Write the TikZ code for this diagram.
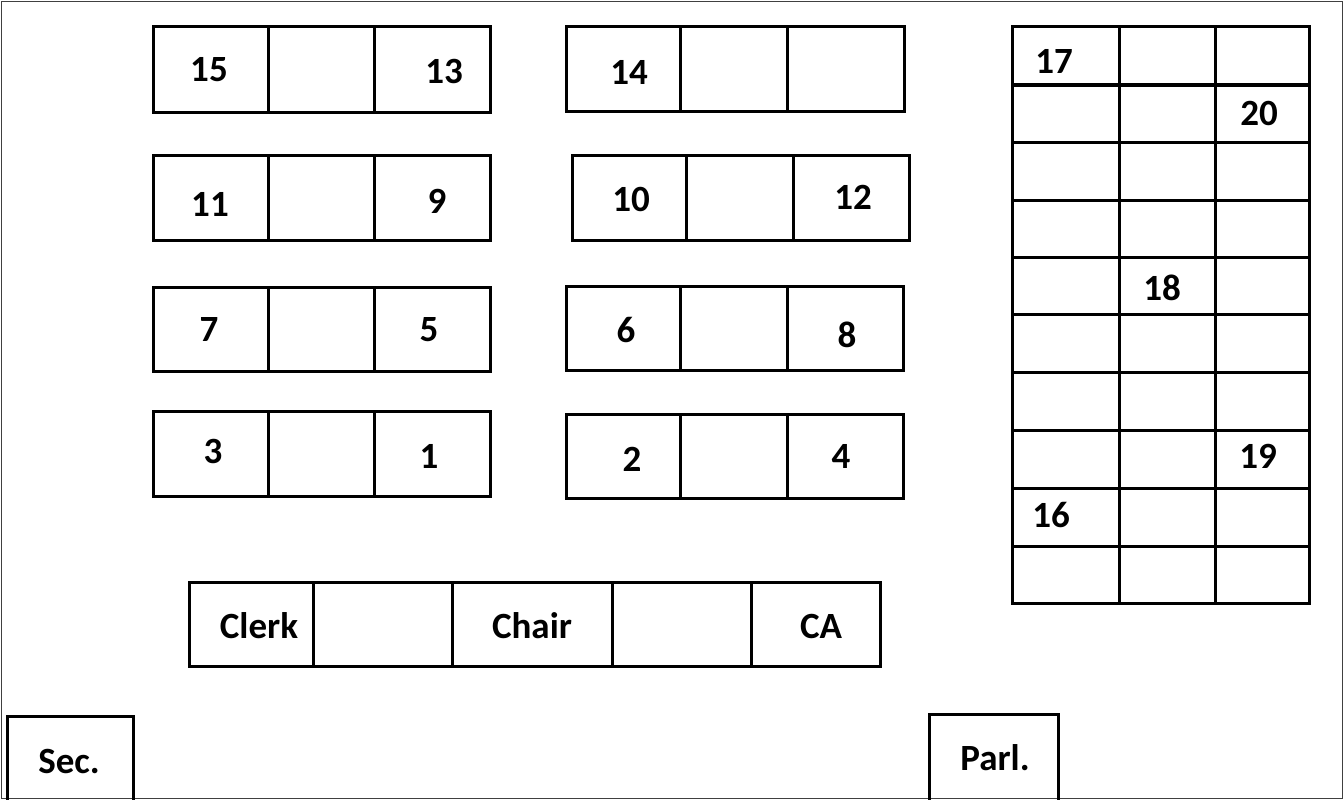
\documentclass[tikz,border=0pt]{standalone}
\usepackage{fontspec}
\setmainfont{Carlito}
\begin{document}
\begin{tikzpicture}[x=1pt,y=-1pt,
  seat/.style={draw=black,line width=3pt,line join=miter},
  lbl/.style={font=\bfseries\fontsize{37}{44}\selectfont,inner sep=0pt,anchor=center},
  frame/.style={draw=black!75,line width=1.5pt}]
\useasboundingbox (0,0) rectangle (1344,800);
\draw[frame] (1.5,1.5) rectangle (1342.5,798.5);
% left column of tables
\foreach \ya/\yb in {27/112,155/240,287/371,411/496}{
  \draw[seat] (153,\ya) rectangle (490,\yb);
  \draw[seat] (268,\ya) -- (268,\yb);
  \draw[seat] (374,\ya) -- (374,\yb);
}
% right column of tables
\foreach \xa/\xb/\ya/\yb in {566/904/27/111,572/909/155/240,566/903/286/370,566/903/414/498}{
  \draw[seat] (\xa,\ya) rectangle (\xb,\yb);
  \draw[seat] ({\xa+114},\ya) -- ({\xa+114},\yb);
  \draw[seat] ({\xa+221},\ya) -- ({\xa+221},\yb);
}
% grid
\foreach \yy in {85,142,200,257,314,372,430,488,546}{
  \draw[seat] (1012,\yy) -- (1309,\yy);
}
\draw[seat] (1119,27) -- (1119,603);
\draw[seat] (1215,27) -- (1215,603);
\draw[seat] (1012,27) rectangle (1309,603);
% front table
\draw[seat] (189,582) rectangle (880,666);
\foreach \xx in {313,452,612,751}{ \draw[seat] (\xx,582) -- (\xx,666); }
% side boxes
\draw[seat] (7,800) -- (7,716) -- (133,716) -- (133,800);
\draw[seat] (929,800) -- (929,714) -- (1058,714) -- (1058,800);
% labels
\node[lbl] (s15) at (209,70) {15};
\node[lbl] (s13) at (444,71) {13};
\node[lbl] (s14) at (629,72) {14};
\node[lbl] (s11) at (210,204) {11};
\node[lbl] (s9) at (437,201) {9};
\node[lbl] (s10) at (631,199) {10};
\node[lbl] (s12) at (853,197) {12};
\node[lbl] (s7) at (209,330) {7};
\node[lbl] (s5) at (429,330) {5};
\node[lbl] (s6) at (626,330) {6};
\node[lbl] (s8) at (847,335) {8};
\node[lbl] (s3) at (213,451) {3};
\node[lbl] (s1) at (429,456) {1};
\node[lbl] (s2) at (632,459) {2};
\node[lbl] (s4) at (841,456) {4};
\node[lbl] (s17) at (1054,61) {17};
\node[lbl] (s20) at (1259,113) {20};
\node[lbl] (s18) at (1162,288) {18};
\node[lbl] (s19) at (1258,456) {19};
\node[lbl] (s16) at (1051,515) {16};
\node[lbl] (clerk) at (259,626) {Clerk};
\node[lbl] (chair) at (532,626) {Chair};
\node[lbl] (ca) at (821,626) {CA};
\node[lbl] (sec) at (69,761) {Sec.};
\node[lbl] (parl) at (995,758) {Parl.};
\end{tikzpicture}
\end{document}
